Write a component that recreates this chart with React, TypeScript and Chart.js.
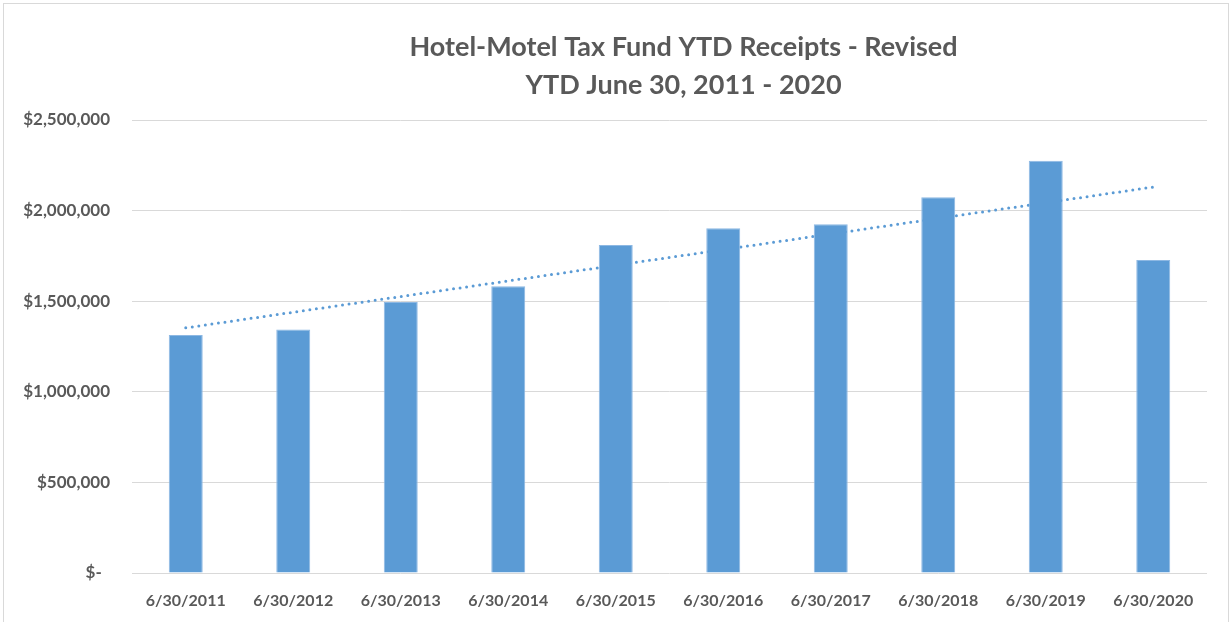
import React, { useEffect, useRef } from "react";
import { Chart, registerables } from "chart.js";

Chart.register(...registerables);

const categories = [
  "6/30/2011", "6/30/2012", "6/30/2013", "6/30/2014", "6/30/2015",
  "6/30/2016", "6/30/2017", "6/30/2018", "6/30/2019", "6/30/2020",
];
const receipts = [1313000, 1344000, 1495000, 1582000, 1810000, 1902000, 1924000, 2073000, 2275000, 1727000];
const trendStart = 1353000;
const trendEnd = 2130000;
const titleLines = ["Hotel-Motel Tax Fund YTD Receipts - Revised", "YTD June 30, 2011 - 2020"];
const yTickValues = [0, 500000, 1000000, 1500000, 2000000, 2500000];

const FONT = "Lato, 'Open Sans', sans-serif";
const TEXT = "#595959";

const titlePlugin = {
  id: "customTitle",
  afterDraw(chart: any) {
    const ctx = chart.ctx;
    const area = chart.chartArea;
    ctx.save();
    ctx.fillStyle = TEXT;
    ctx.textAlign = "center";
    ctx.textBaseline = "middle";
    ctx.font = `bold 27px ${FONT}`;
    const cx = (area.left + area.right) / 2 + 14;
    ctx.fillText(titleLines[0], cx, 47);
    ctx.fillText(titleLines[1], cx, 85);
    ctx.restore();
  },
};

function fmt(v: number) {
  if (v === 0) return "$-  ";
  return "$" + v.toLocaleString("en-US");
}

export default function App() {
  const ref = useRef<HTMLCanvasElement | null>(null);
  useEffect(() => {
    if (!ref.current) return;
    const trend = categories.map((_, i) =>
      i === 0 ? trendStart : i === categories.length - 1 ? trendEnd : null
    );
    const chart = new Chart(ref.current, {
      type: "bar",
      data: {
        labels: categories,
        datasets: [
          {
            type: "bar",
            data: receipts,
            backgroundColor: "#5B9BD5",
            borderColor: "#8DB8E3",
            borderWidth: 1,
            categoryPercentage: 1,
            barPercentage: 0.316,
            order: 1,
          },
          {
            type: "line",
            data: trend as any,
            spanGaps: true,
            borderColor: "#5B9BD5",
            borderWidth: 3,
            borderDash: [0, 6.6],
            borderCapStyle: "round",
            pointRadius: 0,
            fill: false,
            order: 2,
          } as any,
        ],
      },
      options: {
        animation: false,
        responsive: false,
        maintainAspectRatio: false,
        layout: { padding: { top: 120, right: 24, left: 0, bottom: 0 } },
        plugins: {
          legend: { display: false },
          tooltip: { enabled: false },
          title: { display: false },
        },
        scales: {
          x: {
            grid: { display: false, drawTicks: false },
            border: { display: false },
            ticks: {
              color: TEXT,
              font: { family: FONT, size: 16, weight: "bold" },
              padding: 18,
              maxRotation: 0,
              autoSkip: false,
            },
            afterFit(scale: any) {
              scale.height = 49;
            },
          },
          y: {
            min: 0,
            max: 2500000,
            afterBuildTicks(scale: any) {
              scale.ticks = yTickValues.map((v) => ({ value: v }));
            },
            grid: { color: "#D9D9D9", lineWidth: 1, drawTicks: false },
            border: { display: false },
            ticks: {
              color: TEXT,
              font: { family: FONT, size: 17, weight: "bold" },
              padding: 22,
              callback: (v: any) => fmt(Number(v)),
            },
            afterFit(scale: any) {
              scale.width = 132;
            },
          },
        },
      },
      plugins: [titlePlugin],
    });
    return () => chart.destroy();
  }, []);

  return (
    <div style={{ position: "fixed", left: 0, top: 0, width: 1231, height: 622, background: "#fff" }}>
      <div
        style={{
          position: "absolute",
          left: 3,
          top: 3,
          width: 1226,
          height: 630,
          border: "1px solid #D9D9D9",
          boxSizing: "border-box",
        }}
      />
      <canvas ref={ref} width={1231} height={622} style={{ position: "absolute", left: 0, top: 0 }} />
    </div>
  );
}
